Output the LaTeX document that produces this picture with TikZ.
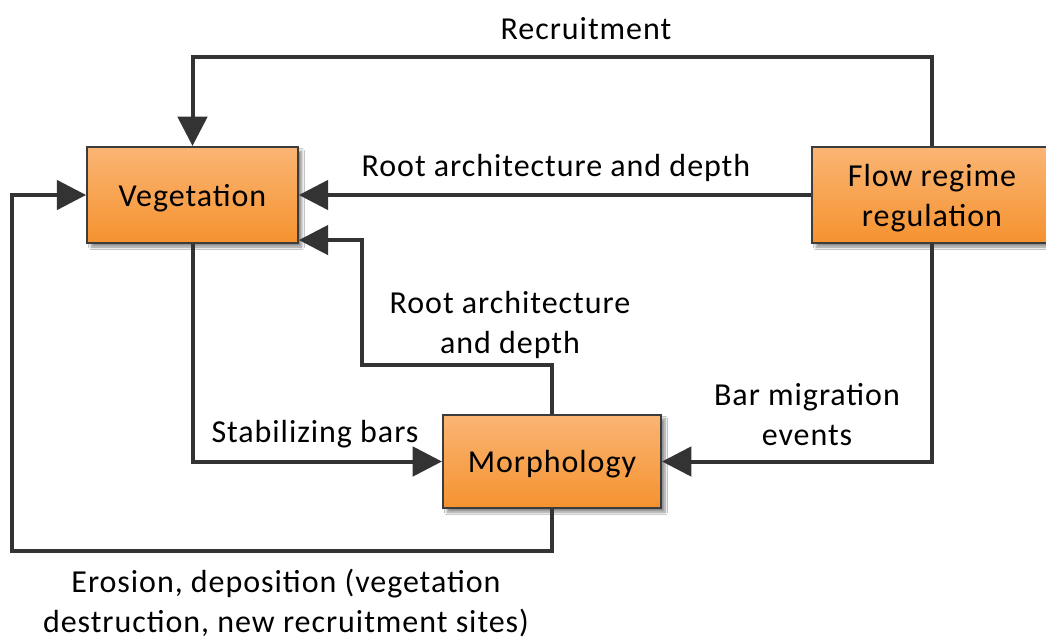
\documentclass[tikz,border=0pt]{standalone}
\usepackage{fontspec}
\setmainfont{Carlito}[LetterSpace=3]
\usetikzlibrary{arrows.meta,shadows.blur}
\definecolor{boxtop}{HTML}{FAB574}
\definecolor{boxbot}{HTML}{F5922F}
\definecolor{linecol}{HTML}{333333}
\definecolor{edgecol}{HTML}{3C3C3C}
\tikzset{
  block/.style={draw=edgecol, line width=1.6pt, top color=boxtop, bottom color=boxbot,
    inner sep=0pt, align=center, text depth=0pt, font=\fontsize{24}{30}\selectfont,
    blur shadow={shadow xshift=3pt, shadow yshift=-3pt, shadow blur steps=6, shadow opacity=45}},
  link/.style={draw=linecol, line width=3pt, -{Triangle[length=22pt,width=22pt]}},
  lbl/.style={align=center, font=\fontsize{24}{30}\selectfont, inner sep=0pt},
}
\begin{document}
\begin{tikzpicture}[x=0.75pt, y=-0.75pt]
  \clip (0,0) rectangle (1046,639);
  \fill[white] (0,0) rectangle (1046,639);

  % the three boxes
  \node[block, minimum width=158pt, minimum height=72pt] (veg) at (192.5,195) {Vegetation};
  \node[block, minimum width=163.5pt, minimum height=70pt] (morph) at (552,461.5) {Morphology};
  \node[block, minimum width=180pt, minimum height=72pt] (flow) at (932,195) {Flow regime\\regulation};

  \coordinate (veglow) at ([yshift=3pt]veg.south east);

  % connectors
  \draw[link] (flow.north) |- (552,57) -| (veg.north);
  \draw[link] (flow.west) -- (veg.east);
  \draw[link] (veg.south) |- (morph.west);
  \draw[link] (morph.north) |- (362,365) |- (veglow);
  \draw[link] (flow.south) |- (morph.east);
  \draw[link] (morph.south) |- (12,551) |- (veg.west);

  % labels
  \node[lbl] (l1) at (586,29) {Recruitment};
  \node[lbl] (l2) at (556,168) {Root architecture and depth};
  \node[lbl] (l3) at (315,434) {Stabilizing bars};
  \node[lbl] (l4) at (510,325) {Root architecture\\and depth};
  \node[lbl] (l5) at (807,415) {Bar migration\\events};
  \node[lbl] (l6) at (286,603) {Erosion, deposition (vegetation\\destruction, new recruitment sites)};
\end{tikzpicture}
\end{document}
